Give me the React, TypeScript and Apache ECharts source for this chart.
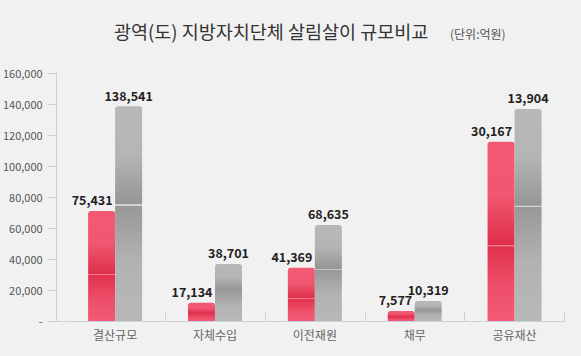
import React, { useEffect, useRef } from "react";
import * as echarts from "echarts";

const categories = ["결산규모", "자체수입", "이전재원", "채무", "공유재산"];
// bar heights as drawn (억원)
const redHeights = [71000, 11800, 34400, 6450, 115700];
const grayHeights = [138541, 36800, 61900, 12900, 136800];
// printed labels
const redLabels = ["75,431", "17,134", "41,369", "7,577", "30,167"];
const grayLabels = ["138,541", "38,701", "68,635", "10,319", "13,904"];
const yTicks = [0, 20000, 40000, 60000, 80000, 100000, 120000, 140000, 160000];

const FONT = "'Noto Sans CJK KR', 'Noto Sans', sans-serif";

export default function App() {
  const ref = useRef<HTMLDivElement>(null);
  useEffect(() => {
    if (!ref.current) return;
    const chart = echarts.init(ref.current, null, { renderer: "svg" });
    const redGrad = new echarts.graphic.LinearGradient(0, 0, 0, 1, [
      { offset: 0, color: "#f25a74" },
      { offset: 0.3, color: "#f0566f" },
      { offset: 0.575, color: "#df2f4c" },
      { offset: 0.576, color: "#f57a8e" },
      { offset: 0.584, color: "#f57a8e" },
      { offset: 0.585, color: "#e1324f" },
      { offset: 0.8, color: "#ee4e69" },
      { offset: 1, color: "#f25a74" },
    ]);
    const grayGrad = new echarts.graphic.LinearGradient(0, 0, 0, 1, [
      { offset: 0, color: "#b8b8b8" },
      { offset: 0.22, color: "#b5b5b5" },
      { offset: 0.455, color: "#969696" },
      { offset: 0.456, color: "#d2d2d2" },
      { offset: 0.463, color: "#d2d2d2" },
      { offset: 0.464, color: "#989898" },
      { offset: 0.72, color: "#b2b2b2" },
      { offset: 1, color: "#b8b8b8" },
    ]);
    chart.setOption({
      animation: false,
      backgroundColor: "#f1f1f1",
      textStyle: { fontFamily: FONT },
      title: [
        {
          text: "광역(도) 지방자치단체 살림살이 규모비교",
          left: 109,
          top: 17,
          textStyle: { fontFamily: FONT, fontSize: 18.5, fontWeight: "normal", color: "#333" },
        },
        {
          text: "(단위:억원)",
          left: 445,
          top: 22,
          textStyle: { fontFamily: FONT, fontSize: 12, fontWeight: "normal", color: "#555" },
        },
      ],
      grid: { left: 63.5, right: 16.5, top: 73, bottom: 35 },
      xAxis: {
        type: "category",
        data: categories,
        axisLine: { show: true, lineStyle: { color: "#c9d2dc", width: 1 } },
        axisTick: {
          show: true,
          inside: true,
          length: 9,
          interval: (i: number) => i !== 0,
          lineStyle: { color: "#c9d2dc" },
        },
        axisLabel: { color: "#666", fontSize: 12, margin: 7, fontFamily: FONT },
      },
      yAxis: {
        type: "value",
        min: 0,
        max: 160000,
        interval: 20000,
        offset: 8.5,
        splitLine: { show: false },
        axisLine: { show: true, lineStyle: { color: "#c9d2dc" } },
        axisTick: { show: true, length: 9, lineStyle: { color: "#c9d2dc" } },
        axisLabel: {
          color: "#555",
          fontSize: 11,
          margin: 14,
          fontFamily: FONT,
          formatter: (v: number) => (v === 0 ? "-" : yTicks.includes(v) ? v.toLocaleString("en-US") : ""),
        },
      },
      graphic: [
        {
          type: "line",
          shape: { x1: 55, y1: 321.5, x2: 64, y2: 321.5 },
          style: { stroke: "#c9d2dc", lineWidth: 1 },
          silent: true,
        },
      ],
      series: [
        {
          name: "red",
          type: "bar",
          data: redHeights,
          barWidth: 27,
          barGap: "0%",
          itemStyle: { color: redGrad, borderRadius: [3, 3, 0, 0] },
          label: {
            show: true,
            position: "top",
            align: "right",
            offset: [11, 0],
            distance: 5,
            fontSize: 12.5,
            fontWeight: "bold",
            color: "#222",
            fontFamily: FONT,
            formatter: (p: any) => redLabels[p.dataIndex],
          },
        },
        {
          name: "gray",
          type: "bar",
          data: grayHeights,
          barWidth: 27,
          itemStyle: { color: grayGrad, borderRadius: [3, 3, 0, 0] },
          label: {
            show: true,
            position: "top",
            distance: 5,
            fontSize: 12.5,
            fontWeight: "bold",
            color: "#222",
            fontFamily: FONT,
            formatter: (p: any) => grayLabels[p.dataIndex],
          },
        },
      ],
    });
    return () => chart.dispose();
  }, []);
  return (
    <div
      ref={ref}
      style={{ position: "fixed", left: 0, top: 0, width: 581, height: 356 }}
    />
  );
}
